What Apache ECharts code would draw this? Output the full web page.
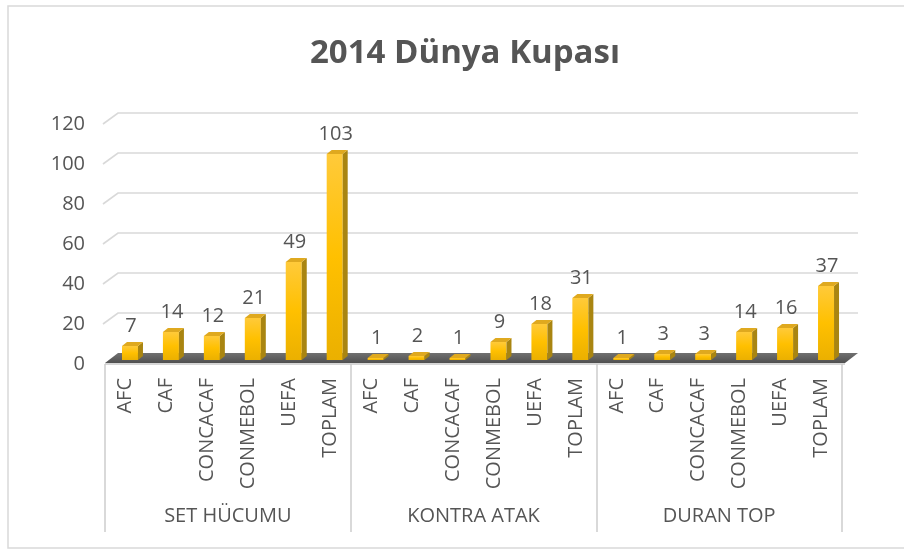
<!DOCTYPE html>
<html>
<head>
<meta charset="utf-8">
<script src="https://cdn.jsdelivr.net/npm/echarts@6/dist/echarts.min.js"></script>
<style>html,body{margin:0;padding:0;background:#fff;}#c{width:904px;height:549px;}</style>
</head>
<body>
<div id="c"></div>
<script>
const categories = ['AFC','CAF','CONCACAF','CONMEBOL','UEFA','TOPLAM',
                    'AFC','CAF','CONCACAF','CONMEBOL','UEFA','TOPLAM',
                    'AFC','CAF','CONCACAF','CONMEBOL','UEFA','TOPLAM'];
const groups = ['SET HÜCUMU','KONTRA ATAK','DURAN TOP'];
const values = [7,14,12,21,49,103, 1,2,1,9,18,31, 1,3,3,14,16,37];
const yTicks = [20,40,60,80,100,120];

const FONT = 'Open Sans';
const TXT = '#555555';

const chart = echarts.init(document.getElementById('c'), null, {renderer:'canvas'});

function wallItem(params, api) {
  const v = api.value(1);
  const p = api.coord([0, v]);
  const half = api.size([1, 0])[0] / 2;
  const pe = api.coord([categories.length - 1, v]);
  const x0 = p[0] - half - 2, y0 = p[1];
  const xe = pe[0] + half + 16;
  return {type:'polyline', shape:{points:[[x0,y0],[x0+15,y0-11],[xe,y0-11]]},
          style:{stroke:'#D9D9D9', lineWidth:1.6, fill:null}};
}
function floorItem(params, api) {
  const p = api.coord([0, 0]);
  const half = api.size([1, 0])[0] / 2;
  const pe = api.coord([categories.length - 1, 0]);
  const L = p[0] - half, R = pe[0] + half, y = p[1];
  return {type:'group', children:[
    {type:'polygon', shape:{points:[[L,y-1],[R+3,y-1],[R+16,y-11],[L+13,y-11]]},
     style:{fill:new echarts.graphic.LinearGradient(0,0,0,1,[{offset:0,color:'#707070'},{offset:1,color:'#505050'}])}},
    {type:'line', shape:{x1:L, y1:y, x2:R+3, y2:y}, style:{stroke:'#C8C8C8', lineWidth:1.5}}
  ]};
}
function barItem(params, api) {
  const i = api.value(0), v = api.value(1);
  const base = api.coord([i, 0]);
  const top = api.coord([i, v]);
  const cx = base[0] + 4.5;
  const x1 = cx - 8, x2 = cx + 8;
  const yb = base[1] - 4, yt = top[1] - 4;
  const dx = 5, dy = 4;
  return {type:'group', children:[
    {type:'rect', shape:{x:x1, y:yt, width:x2-x1, height:Math.max(yb-yt,0.5)},
     style:{fill:new echarts.graphic.LinearGradient(0,0,0,1,[{offset:0,color:'#FFCA3A'},{offset:0.5,color:'#FFC000'},{offset:1,color:'#EBB000'}])}},
    {type:'polygon', shape:{points:[[x2,yb],[x2+dx,yb-dy],[x2+dx,yt-dy],[x2,yt]]},
     style:{fill:'#A98511'}},
    {type:'polygon', shape:{points:[[x1,yt],[x2,yt],[x2+dx,yt-dy],[x1+dx,yt-dy]]},
     style:{fill:'#DFA91F'}},
    {type:'text', style:{text:String(v), x:cx+1, y:yt-10, align:'center', verticalAlign:'bottom',
      fontSize:20, fontFamily:FONT, fill:TXT}}
  ]};
}

const option = {
  animation:false,
  backgroundColor:'#ffffff',
  title:{text:'2014 Dünya Kupası', left:305, top:32,
    textStyle:{fontSize:33, fontWeight:'bold', color:TXT, fontFamily:FONT}},
  grid:{left:105, right:62, top:124, bottom:185, containLabel:false},
  xAxis:[
    {type:'category', data:categories, boundaryGap:true,
     axisLine:{show:false}, axisTick:{show:false},
     axisLabel:{rotate:90, margin:14, interval:0, fontSize:20, color:TXT, fontFamily:FONT}},
    {type:'category', data:groups, position:'bottom', boundaryGap:true,
     axisLine:{show:false},
     axisTick:{show:true, length:168, lineStyle:{color:'#D9D9D9', width:2}},
     axisLabel:{margin:142, interval:0, fontSize:20, color:TXT, fontFamily:FONT}}
  ],
  yAxis:{type:'value', min:0, max:120, interval:20,
    axisLine:{show:false}, axisTick:{show:false}, splitLine:{show:false},
    axisLabel:{margin:20, fontSize:20, color:TXT, fontFamily:FONT}},
  graphic:[{type:'rect', shape:{x:8, y:6, width:900, height:542}, style:{fill:null, stroke:'#D9D9D9', lineWidth:1.5}, z:-1}],
  series:[
    {type:'custom', name:'wall', renderItem:wallItem, data:yTicks.map(v=>[0,v]), z:1, silent:true},
    {type:'custom', name:'floor', renderItem:floorItem, data:[[0,0]], z:2, silent:true},
    {type:'custom', name:'bars', renderItem:barItem, data:values.map((v,i)=>[i,v]), z:3}
  ]
};
chart.setOption(option);
</script>
</body>
</html>
